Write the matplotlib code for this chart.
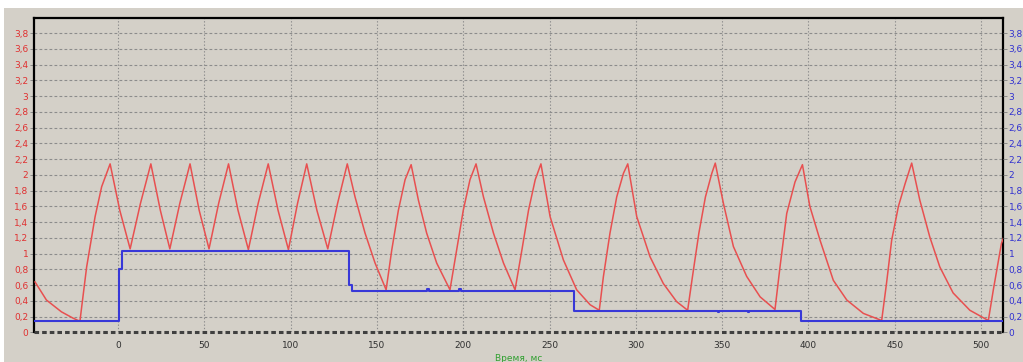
import numpy as np
import matplotlib.pyplot as plt
from matplotlib.patches import Rectangle
from matplotlib.ticker import FuncFormatter

# red trace: time (ms) and value
red_t = [-48.1, -41.5, -32.8, -26.1, -22.1, -18.2, -13.3, -9.5, -4.6,
         1.0, 7.0, 13.0, 19.0, 24.5, 30.0, 35.8, 41.7, 47.0, 52.7, 58.3, 64.0,
         69.5, 75.5, 81.2, 87.0, 92.7, 98.7, 104.0, 109.3, 115.2, 121.5, 127.2, 132.8,
         137.3, 143.1, 148.9, 155.3, 158.6, 162.4, 166.3, 169.8,
         174.0, 178.8, 184.6, 192.3, 196.2, 200.0, 203.9, 207.4,
         211.7, 217.5, 223.3, 230.0, 234.0, 237.8, 241.7, 245.0,
         250.3, 258.0, 265.7, 273.5, 278.8, 281.2, 285.0, 288.9, 292.8, 295.3,
         300.5, 308.2, 315.9, 323.6, 330.0, 332.8, 336.5, 340.3, 344.0, 346.0,
         350.7, 356.5, 364.2, 372.0, 380.6, 383.5, 387.4, 392.2, 396.5,
         400.8, 406.7, 414.4, 422.2, 431.8, 442.4, 445.2, 448.2, 452.1, 456.0, 459.8,
         464.5, 470.3, 476.1, 483.8, 493.5, 504.2, 507.1, 511.8, 513.0]
red_v = [0.64, 0.41, 0.26, 0.18, 0.14, 0.83, 1.47, 1.85, 2.14,
         1.55, 1.06, 1.64, 2.14, 1.55, 1.06, 1.64, 2.14, 1.55, 1.06, 1.64, 2.14,
         1.55, 1.05, 1.64, 2.14, 1.55, 1.05, 1.64, 2.14, 1.55, 1.06, 1.64, 2.14,
         1.72, 1.26, 0.88, 0.54, 1.05, 1.55, 1.94, 2.13,
         1.68, 1.26, 0.88, 0.54, 1.05, 1.55, 1.94, 2.14,
         1.72, 1.26, 0.88, 0.54, 1.05, 1.55, 1.94, 2.14,
         1.47, 0.92, 0.54, 0.35, 0.28, 0.71, 1.26, 1.72, 2.02, 2.14,
         1.47, 0.96, 0.62, 0.39, 0.28, 0.71, 1.26, 1.72, 2.02, 2.15,
         1.64, 1.09, 0.71, 0.45, 0.29, 0.83, 1.51, 1.91, 2.13,
         1.60, 1.17, 0.66, 0.41, 0.24, 0.15, 0.62, 1.17, 1.60, 1.89, 2.15,
         1.68, 1.21, 0.83, 0.50, 0.28, 0.15, 0.54, 1.13, 1.20]

# blue trace (step-post), with the small glitches seen on the reference
blue_t = [-49, 0.6, 2.2, 133.8, 135.5, 179.2, 180.0, 193.0, 193.8, 197.8, 198.6,
          264.2, 287.0, 287.6, 304.0, 304.6, 325.6, 326.2, 347.3, 347.9, 365.0, 365.6,
          390.3, 390.9, 395.7, 513]
blue_v = [0.145, 0.80, 1.035, 0.60, 0.53, 0.545, 0.53, 0.52, 0.53, 0.545, 0.53,
          0.275, 0.265, 0.275, 0.265, 0.275, 0.265, 0.275, 0.262, 0.275, 0.262, 0.275,
          0.265, 0.275, 0.145, 0.145]

y_ticks = np.arange(0, 3.81, 0.2)
x_ticks = [0, 50, 100, 150, 200, 250, 300, 350, 400, 450, 500]

bg = '#d4d0c8'
fig = plt.figure(figsize=(10.23, 3.62), dpi=100, facecolor='white')
fig.patches.append(Rectangle((4 / 1023, 0), 1, 1 - 8 / 362, transform=fig.transFigure,
                             facecolor=bg, edgecolor='none', zorder=-10))

ax = fig.add_axes([34 / 1023, 1 - 332.3 / 362, (1003 - 34) / 1023, (332.3 - 17.5) / 362])
ax.set_facecolor(bg)
ax.set_xlim(-48.7, 512.7)
ax.set_ylim(0, 4.0)

fmt = FuncFormatter(lambda v, p: ('%g' % round(v, 1)).replace('.', ','))
ax.set_yticks(y_ticks)
ax.yaxis.set_major_formatter(fmt)
ax.set_xticks(x_ticks)
ax.tick_params(axis='y', labelcolor='#e03030', labelsize=6.5, length=3, width=0.6,
               color='#808080', pad=1)
ax.tick_params(axis='x', labelcolor='#303030', labelsize=6.5, length=0, pad=6)

ax.grid(True, axis='y', color='#8c8c8c', linestyle=(0, (2.5, 2.0)), linewidth=0.8)
ax.grid(True, axis='x', color='#8c8c8c', linestyle=(0, (1.2, 1.8)), linewidth=0.8)

for s in ['top', 'left', 'right']:
    ax.spines[s].set_color('black')
    ax.spines[s].set_linewidth(1.6)
ax.spines['bottom'].set_visible(False)
ax.axhline(0, color='#404040', linestyle=(0, (1.5, 1.0)), linewidth=2.2, clip_on=False, zorder=5)

ax.plot(red_t, red_v, color='#e85050', linewidth=1.1, zorder=3)
ax.step(blue_t, blue_v, where='post', color='#3838d8', linewidth=1.5, zorder=4)

ax2 = ax.twinx()
ax2.set_ylim(0, 4.0)
ax2.set_yticks(y_ticks)
ax2.yaxis.set_major_formatter(fmt)
ax2.tick_params(axis='y', labelcolor='#3030d0', labelsize=6.5, length=3, width=0.6,
                color='#808080', pad=1)
for s in ax2.spines.values():
    s.set_visible(False)

ax.set_xlabel('Время, мс', color='#30a030', fontsize=6.5, labelpad=3)

fig.savefig('out.png', dpi=100, facecolor='white')
